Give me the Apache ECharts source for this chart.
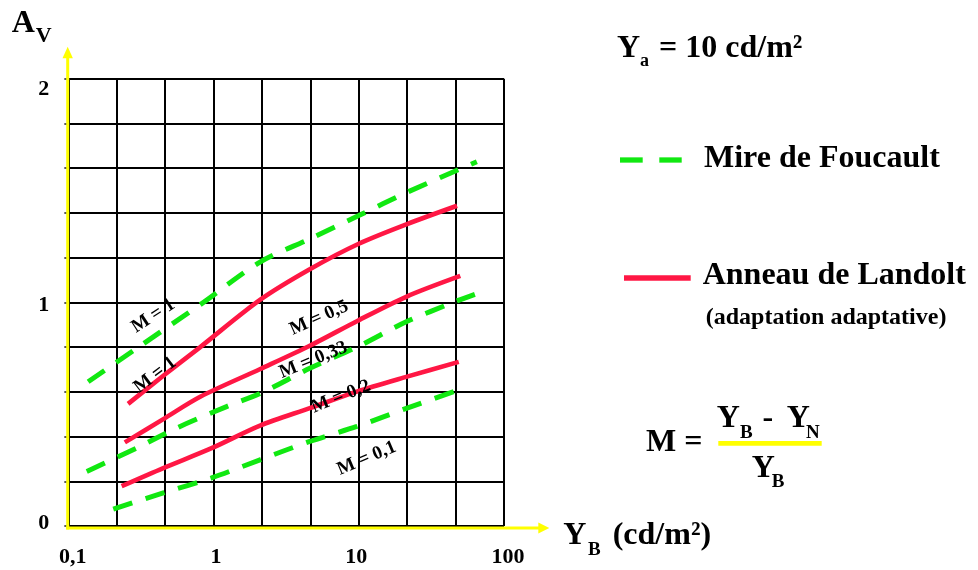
<!DOCTYPE html>
<html><head><meta charset="utf-8">
<script src="https://cdn.jsdelivr.net/npm/echarts@6/dist/echarts.min.js"></script>
<style>html,body{margin:0;padding:0;background:#fff}#c{width:978px;height:570px}</style>
</head><body><div id="c"></div>
<script>
// ---- tick labels ----
const xTickLabels = ['0,1', '1', '10', '100'];
const yTickLabels = ['0', '1', '2'];

// ---- Mire de Foucault (green, dashed) ----
const foucaultM1X = [0.137, 0.295, 0.81, 2.09, 4.6, 10, 21.5, 65];
const foucaultM1Y = [0.645, 0.794, 0.990, 1.180, 1.284, 1.388, 1.492, 1.629];
const foucaultM033X = [0.134, 0.295, 0.557, 1.23, 2.1, 4.6, 9.85, 21.4, 46, 63];
const foucaultM033Y = [0.244, 0.348, 0.438, 0.534, 0.593, 0.705, 0.802, 0.914, 1.003, 1.036];
const foucaultM01X = [0.204, 0.451, 0.97, 2.09, 4.6, 9.7, 21.5, 52.8];
const foucaultM01Y = [0.075, 0.148, 0.215, 0.296, 0.378, 0.445, 0.527, 0.616];

// ---- Anneau de Landolt (red, solid) ----
const landoltM1X = [0.258, 0.451, 0.81, 2.1, 4.6, 10, 21.5, 47.5];
const landoltM1Y = [0.546, 0.672, 0.800, 1.012, 1.148, 1.262, 1.350, 1.432];
const landoltM05X = [0.245, 0.451, 0.81, 2.1, 4.6, 9.85, 21.4, 50];
const landoltM05Y = [0.374, 0.478, 0.578, 0.702, 0.806, 0.918, 1.026, 1.118];
const landoltM02X = [0.233, 0.451, 0.97, 2.09, 4.6, 9.7, 21.5, 48.8];
const landoltM02Y = [0.178, 0.259, 0.348, 0.449, 0.527, 0.601, 0.668, 0.734];

const GREEN = '#11e811';
const RED = '#ff1744';
const FONT = '"Liberation Serif", "Times New Roman", serif';

function pairs(xs, ys) { return xs.map((x, i) => [x, ys[i]]); }

function greenSeries(name, xs, ys) {
  return { type: 'line', name: name, xAxisIndex: 0, yAxisIndex: 0, data: pairs(xs, ys),
    smooth: 0.3, symbol: 'none', silent: true, z: 3,
    lineStyle: { color: GREEN, width: 5, type: [20, 14], cap: 'butt' } };
}
function redSeries(name, xs, ys) {
  return { type: 'line', name: name, xAxisIndex: 0, yAxisIndex: 0, data: pairs(xs, ys),
    smooth: 0.3, symbol: 'none', silent: true, z: 4,
    lineStyle: { color: RED, width: 4.6, cap: 'butt' } };
}

// text helper: (left x, baseline y)
function txt(s, x, baseline, size, extra) {
  return Object.assign({ type: 'text', x: x, y: baseline - 0.34 * size, z: 20,
    style: { text: s, font: 'bold ' + size + 'px ' + FONT, fill: '#000', align: 'left', verticalAlign: 'middle' } }, extra || {});
}
function rotTxt(s, cx, cy, deg, size) {
  return { type: 'text', x: cx, y: cy, rotation: deg * Math.PI / 180, z: 20,
    style: { text: s, font: 'bold ' + size + 'px ' + FONT, fill: '#000', align: 'center', verticalAlign: 'middle' } };
}

const labelRich = function (pad) {
  return { fontFamily: FONT, fontWeight: 'bold', fontSize: 22, color: '#000', padding: pad };
};

const chart = echarts.init(document.getElementById('c'), null, { renderer: 'canvas' });

const option = {
  backgroundColor: '#fff',
  animation: false,
  grid: { left: 68.3, top: 78.7, width: 435.7, height: 447.3, containLabel: false },
  xAxis: [
    { type: 'log', logBase: 10, min: 0.1, max: 100, position: 'bottom',
      axisLine: { show: false }, axisTick: { show: false }, splitLine: { show: false },
      axisLabel: { show: true, margin: 20, color: '#000', fontFamily: FONT, fontWeight: 'bold', fontSize: 22,
        formatter: function (v, i) {
          const keys = ['a', 'b', 'c', 'd'];
          return xTickLabels[i] !== undefined ? '{' + keys[i] + '|' + xTickLabels[i] + '}' : '';
        },
        rich: { a: labelRich([0, 0, 0, 9]), b: labelRich([0, 0, 0, 5]), c: labelRich([0, 5, 0, 0]), d: labelRich([0, 0, 0, 8]) } } },
    { type: 'value', min: 0, max: 9, interval: 1, position: 'top',
      axisLine: { show: false }, axisTick: { show: false }, axisLabel: { show: false },
      splitLine: { show: true, lineStyle: { color: '#000', width: 2 } } }
  ],
  yAxis: [
    { type: 'value', min: 0, max: 2, interval: 0.2,
      axisLine: { show: false },
      axisTick: { show: true, length: 4, lineStyle: { color: '#222', width: 1.5 } },
      splitLine: { show: true, lineStyle: { color: '#000', width: 2 } },
      axisLabel: { show: true, margin: 19, color: '#000', fontFamily: FONT, fontWeight: 'bold', fontSize: 22,
        formatter: function (v) {
          if (Math.abs(v - 2) < 1e-6) return '{t|' + yTickLabels[2] + '}';
          if (Math.abs(v - 1) < 1e-6) return '{m|' + yTickLabels[1] + '}';
          if (Math.abs(v) < 1e-6) return '{b|' + yTickLabels[0] + '}';
          return '';
        },
        rich: { t: labelRich([21, 0, 0, 0]), m: labelRich([5, 0, 0, 0]), b: labelRich([0, 0, 6, 0]) } } }
  ],
  series: [
    greenSeries('Mire de Foucault M=1', foucaultM1X, foucaultM1Y),
    greenSeries('Mire de Foucault M=0,33', foucaultM033X, foucaultM033Y),
    greenSeries('Mire de Foucault M=0,1', foucaultM01X, foucaultM01Y),
    redSeries('Anneau de Landolt M=1', landoltM1X, landoltM1Y),
    redSeries('Anneau de Landolt M=0,5', landoltM05X, landoltM05Y),
    redSeries('Anneau de Landolt M=0,2', landoltM02X, landoltM02Y)
  ],
  graphic: [
    // yellow axes with arrows
    { type: 'line', z: 10, shape: { x1: 67.7, y1: 529.5, x2: 67.7, y2: 57 }, style: { stroke: '#ffff00', lineWidth: 3 } },
    { type: 'polygon', z: 10, shape: { points: [[67.7, 46.7], [62.5, 58.3], [72.9, 58.3]] }, style: { fill: '#ffff00' } },
    { type: 'line', z: 10, shape: { x1: 66.2, y1: 528, x2: 539, y2: 528 }, style: { stroke: '#ffff00', lineWidth: 3 } },
    { type: 'polygon', z: 10, shape: { points: [[549.3, 528], [538.3, 522.5], [538.3, 533.5]] }, style: { fill: '#ffff00' } },

    // axis titles
    txt('A', 11.7, 34.3, 32),
    txt('V', 35.7, 43.3, 22),
    txt('Y', 563.3, 546.7, 32),
    txt('B', 588, 556.7, 19),
    txt('(cd/m²)', 612.7, 546.7, 32),

    // curve labels
    rotTxt('M = 1', 153.3, 316, 33, 19),
    rotTxt('M = 1', 155, 375, 37, 19),
    rotTxt('M = 0,5', 319, 318, 24, 19),
    rotTxt('M = 0,33', 313.3, 360, 22, 19),
    rotTxt('M = 0,2', 341, 396.7, 22, 19),
    rotTxt('M = 0,1', 366.7, 458.3, 23, 19),

    // right-hand annotations
    txt('Y', 617, 59.3, 32),
    txt('a', 640, 67.7, 18),
    txt('= 10 cd/m²', 659, 59.3, 32),

    { type: 'line', z: 10, shape: { x1: 620, y1: 160, x2: 642.7, y2: 160 }, style: { stroke: GREEN, lineWidth: 5.3 } },
    { type: 'line', z: 10, shape: { x1: 659.3, y1: 160, x2: 681.7, y2: 160 }, style: { stroke: GREEN, lineWidth: 5.3 } },
    txt('Mire de Foucault', 704, 170, 32),

    { type: 'line', z: 10, shape: { x1: 624, y1: 278, x2: 690.7, y2: 278 }, style: { stroke: RED, lineWidth: 5.7 } },
    txt('Anneau de Landolt', 702.7, 286.7, 32),
    txt('(adaptation adaptative)', 705.7, 326, 24),

    txt('M =', 646, 453.3, 32),
    txt('Y', 716.7, 430, 32),
    txt('B', 740, 439.3, 19),
    txt('-', 762.5, 430, 32),
    txt('Y', 786.7, 430, 32),
    txt('N', 806, 439.3, 19),
    { type: 'rect', z: 10, shape: { x: 718.3, y: 441, width: 103.4, height: 4.7 }, style: { fill: '#ffff00' } },
    txt('Y', 751.7, 480, 32),
    txt('B', 771.7, 488.3, 19)
  ]
};
chart.setOption(option);
</script>
</body></html>
